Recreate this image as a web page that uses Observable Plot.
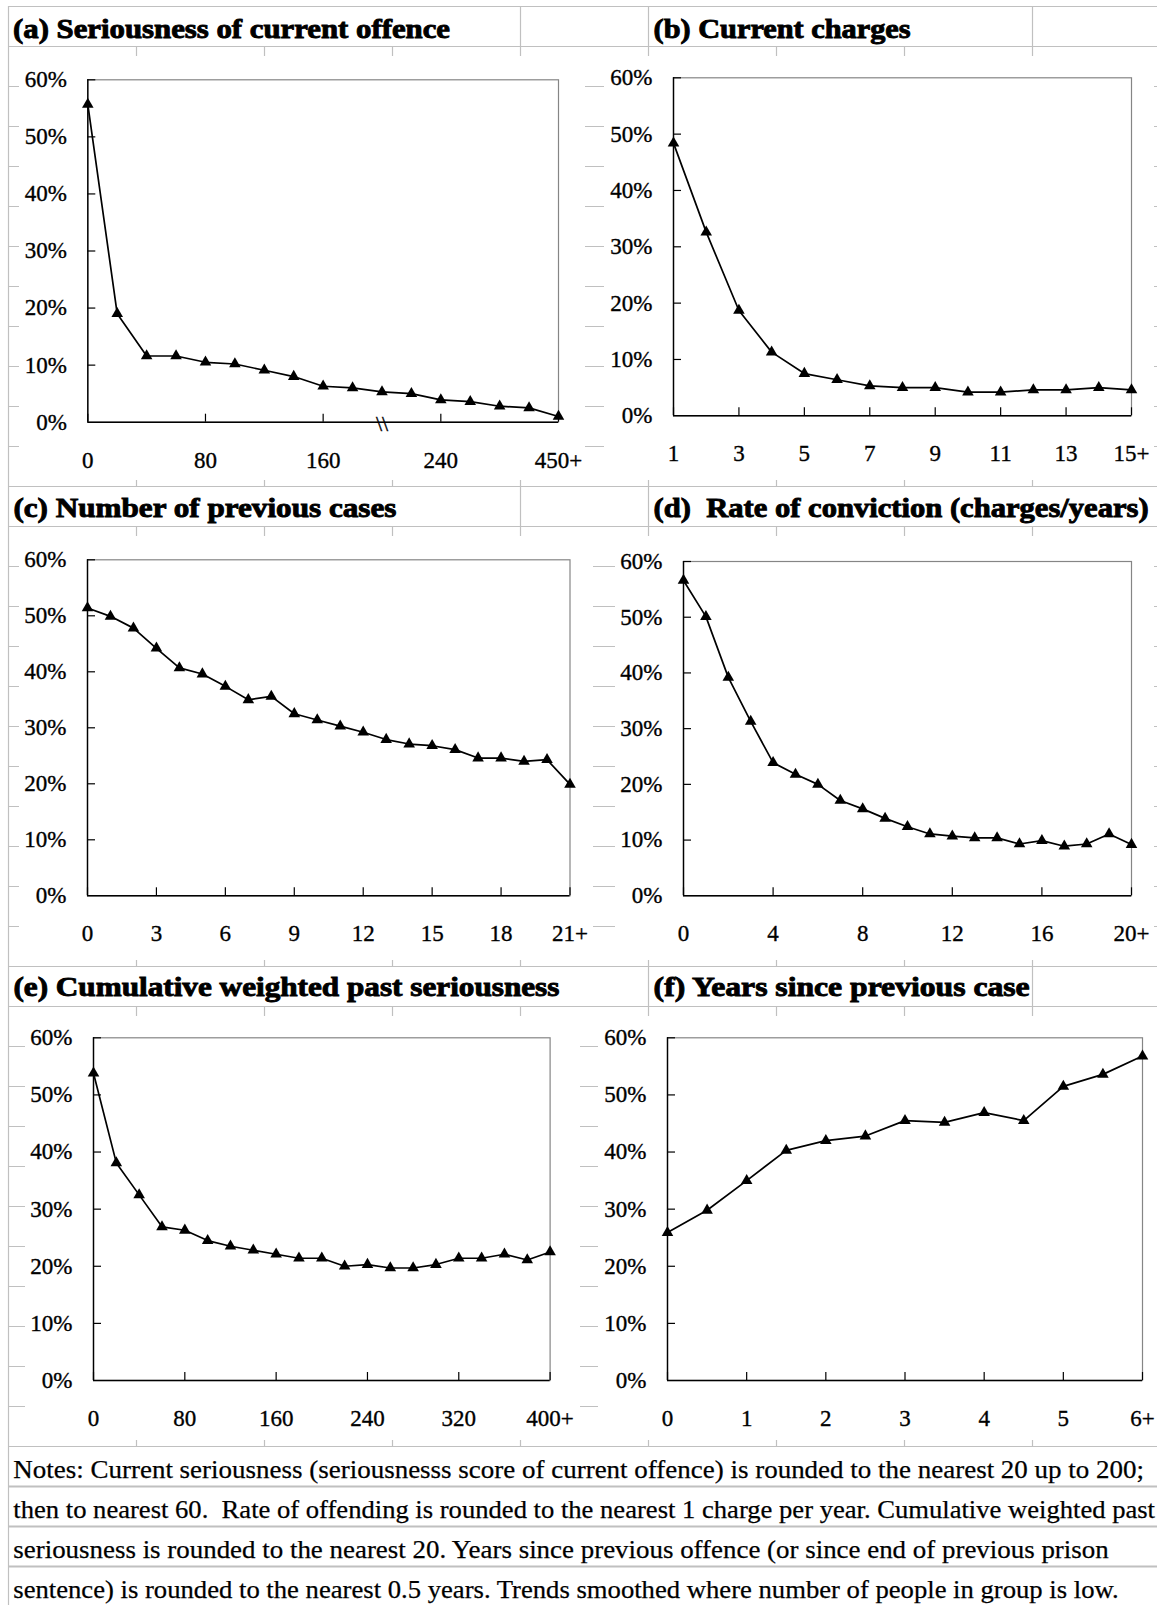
<!DOCTYPE html>
<html><head><meta charset="utf-8">
<script src="https://cdn.jsdelivr.net/npm/d3@7"></script>
<script src="https://cdn.jsdelivr.net/npm/@observablehq/plot@0.6"></script>
<style>
body{margin:0;background:#fff;}
#page{position:relative;width:1157px;height:1605px;overflow:hidden;background:#fff;font-family:"Liberation Serif",serif;}
.chart{position:absolute;background:#fff;}
.chart svg{display:block;}
#grid{position:absolute;left:0;top:0;}
#grid text{white-space:pre;}
</style></head><body><div id="page"></div>
<script>
// ---------- data ----------
const titles = [
  "(a) Seriousness of current offence",
  "(b) Current charges",
  "(c) Number of previous cases",
  "(d)  Rate of conviction (charges/years)",
  "(e) Cumulative weighted past seriousness",
  "(f) Years since previous case"
];
const notes = [
  "Notes: Current seriousness (seriousnesss score of current offence) is rounded to the nearest 20 up to 200;",
  "then to nearest 60.  Rate of offending is rounded to the nearest 1 charge per year. Cumulative weighted past",
  "seriousness is rounded to the nearest 20. Years since previous offence (or since end of previous prison",
  "sentence) is rounded to the nearest 0.5 years. Trends smoothed where number of people in group is low."
];
const yTickValues = [0, 10, 20, 30, 40, 50, 60];

const aCategories = ["0","20","40","60","80","100","120","140","160","180","200","220","240","300","360","420","450+"];
const aValues = [55.7, 19.0, 11.6, 11.6, 10.5, 10.2, 9.1, 8.0, 6.3, 6.0, 5.3, 5.0, 3.9, 3.6, 2.8, 2.5, 1.0];
const aTickLabels = ["0","80","160","240","450+"];
const aBreakAt = "200";

const bCategories = ["1","2","3","4","5","6","7","8","9","10","11","12","13","14","15+"];
const bValues = [48.4, 32.6, 18.7, 11.3, 7.5, 6.4, 5.3, 5.0, 5.0, 4.2, 4.2, 4.6, 4.6, 5.0, 4.6];
const bTickLabels = ["1","3","5","7","9","11","13","15+"];

const cCategories = ["0","1","2","3","4","5","6","7","8","9","10","11","12","13","14","15","16","17","18","19","20","21+"];
const cValues = [51.4, 49.9, 47.8, 44.2, 40.7, 39.6, 37.4, 35.0, 35.6, 32.5, 31.4, 30.3, 29.2, 27.9, 27.1, 26.8, 26.1, 24.6, 24.6, 24.0, 24.3, 19.9];
const cTickLabels = ["0","3","6","9","12","15","18","21+"];

const dCategories = ["0","1","2","3","4","5","6","7","8","9","10","11","12","13","14","15","16","17","18","19","20+"];
const dValues = [56.6, 50.1, 39.2, 31.3, 23.9, 21.8, 20.0, 17.1, 15.6, 13.9, 12.4, 11.1, 10.7, 10.4, 10.4, 9.3, 9.9, 8.9, 9.3, 11.1, 9.2];
const dTickLabels = ["0","4","8","12","16","20+"];

const eCategories = ["0","20","40","60","80","100","120","140","160","180","200","220","240","260","280","300","320","340","360","380","400+"];
const eValues = [53.8, 38.1, 32.5, 26.9, 26.3, 24.5, 23.5, 22.8, 22.1, 21.4, 21.4, 20.0, 20.3, 19.7, 19.7, 20.3, 21.4, 21.4, 22.1, 21.1, 22.5];
const eTickLabels = ["0","80","160","240","320","400+"];

const fCategories = ["0","0.5","1","1.5","2","2.5","3","3.5","4","4.5","5","5.5","6+"];
const fValues = [25.9, 29.8, 35.0, 40.3, 42.0, 42.8, 45.5, 45.2, 46.9, 45.5, 51.5, 53.6, 56.8];
const fTickLabels = ["0","1","2","3","4","5","6+"];

// ---------- layout ----------
const FONT = '"Liberation Serif", "Times New Roman", serif';
const page = document.getElementById("page");
const W = 1157, H = 1605;

// spreadsheet grid
const grid = d3.select(page).append("svg").attr("id","grid").attr("width",W).attr("height",H);
const colX = [8,136,264,392,520,648,776,904,1032];
const rowY = d3.range(0, 41).map(k => 6 + 40*k);
const gridColor = "#c0c0c0";
rowY.forEach((y,k) => grid.append("line").attr("x1",8).attr("x2",W).attr("y1",y+0.5).attr("y2",y+0.5)
  .attr("stroke",gridColor).attr("stroke-width", k >= 37 ? 1.8 : 1.2));
const titleRowCols = {0:[8,520,648,1032], 12:[8,520,648], 24:[8,648,1032]};
rowY.slice(0,-1).forEach((y,k) => {
  let cols = colX;
  if (titleRowCols[k]) cols = titleRowCols[k];
  if (k >= 36) cols = [8];
  cols.forEach(x => grid.append("line").attr("x1",x+0.5).attr("x2",x+0.5).attr("y1",y).attr("y2",y+40)
    .attr("stroke",gridColor).attr("stroke-width",1.2));
});

// titles
const titlePos = [
  {x:13, y:37.5, len:437},
  {x:653.6, y:37.5, len:257},
  {x:13.4, y:517, len:383},
  {x:653.6, y:517, len:495},
  {x:13.4, y:996, len:546},
  {x:653.6, y:996, len:376}
];
titles.forEach((t,i) => {
  const p = titlePos[i];
  grid.append("text").attr("x",p.x).attr("y",p.y).attr("textLength",p.len).attr("lengthAdjust","spacingAndGlyphs")
    .attr("font-family",FONT).attr("font-weight","bold").attr("font-size",27).attr("fill","#000")
    .attr("stroke","#000").attr("stroke-width",0.9).text(t);
});
// notes
const noteLens = [1130.7, 1141.7, 1095.4, 1105.4];
notes.forEach((t,i) => {
  grid.append("text").attr("x",13.3).attr("y",1478 + 40*i).attr("textLength",noteLens[i]).attr("lengthAdjust","spacingAndGlyphs")
    .attr("font-family",FONT).attr("font-size",26).attr("fill","#000")
    .attr("stroke","#000").attr("stroke-width",0.25).text(t);
});

// charts
const panels = [
  {cats:aCategories, vals:aValues, ticks:aTickLabels, box:[19,56,585,480], frame:[87.3,79.3,558,421.7], brk:aBreakAt},
  {cats:bCategories, vals:bValues, ticks:bTickLabels, box:[604,56,1154,480], frame:[673,77.3,1131,415.3]},
  {cats:cCategories, vals:cValues, ticks:cTickLabels, box:[19,536,593,960], frame:[87,559.3,569.5,895.3]},
  {cats:dCategories, vals:dValues, ticks:dTickLabels, box:[615,536,1154,960], frame:[683,561,1131,895.3]},
  {cats:eCategories, vals:eValues, ticks:eTickLabels, box:[25,1016,580,1440], frame:[93,1037.3,549.6,1380]},
  {cats:fCategories, vals:fValues, ticks:fTickLabels, box:[598,1016,1157,1440], frame:[667,1037.3,1142,1380]}
];

panels.forEach(p => {
  const [bx0,by0,bx1,by1] = p.box;
  const [fx0,fy0,fx1,fy1] = p.frame;
  const fw = fx1 - fx0, fh = fy1 - fy0;
  const data = p.cats.map((c,i) => ({c, v: p.vals[i]}));
  const marks = [
    Plot.frame({stroke:"#858585", strokeWidth:1.2}),
    Plot.axisY(yTickValues, {anchor:"left", tickSize:0, tickPadding:21, tickFormat: d => d + "%", fontSize:23, fontFamily:FONT, fill:"#000", label:null}),
    Plot.axisX(p.ticks, {anchor:"bottom", tickSize:0, tickPadding:29, fontSize:23, fontFamily:FONT, fill:"#000", label:null}),
    Plot.tickY(yTickValues.slice(1), {y: d => d, insetRight: fw - 8, stroke:"#000", strokeWidth:1.2}),
    Plot.tickX(p.ticks, {x: d => d, insetTop: fh - 8, stroke:"#000", strokeWidth:1.2}),
    Plot.ruleX([p.cats[0]], {stroke:"#000", strokeWidth:1.4}),
    Plot.ruleY([0], {stroke:"#000", strokeWidth:1.4})
  ];
  if (p.brk) marks.push(Plot.text([p.brk], {x: d => d, y: 0, text: () => "\\\\", fontSize:22, fontFamily:FONT, dy:2, fill:"#000"}));
  marks.push(
    Plot.line(data, {x:"c", y:"v", stroke:"#000", strokeWidth:1.7}),
    Plot.dot(data, {x:"c", y:"v", symbol:"triangle", r:4.3, fill:"#000", stroke:null})
  );
  const chart = Plot.plot({
    width: bx1 - bx0, height: by1 - by0,
    marginLeft: fx0 - bx0, marginTop: fy0 - by0, marginRight: bx1 - fx1, marginBottom: by1 - fy1,
    style: {fontFamily: FONT, fontSize: "23px", color: "#000", background: "#fff", overflow: "visible"},
    x: {type:"point", domain: p.cats, padding: 0, round: false, axis: null},
    y: {domain: [0, 60], axis: null},
    marks
  });
  chart.querySelectorAll("text").forEach(t => {
    t.setAttribute("font-family", FONT);
    t.setAttribute("stroke", "#000");
    t.setAttribute("stroke-width", "0.35");
  });
  const div = document.createElement("div");
  div.className = "chart";
  div.style.left = bx0 + "px"; div.style.top = by0 + "px";
  div.style.width = (bx1 - bx0) + "px"; div.style.height = (by1 - by0) + "px";
  div.appendChild(chart);
  page.appendChild(div);
});
</script></body></html>
